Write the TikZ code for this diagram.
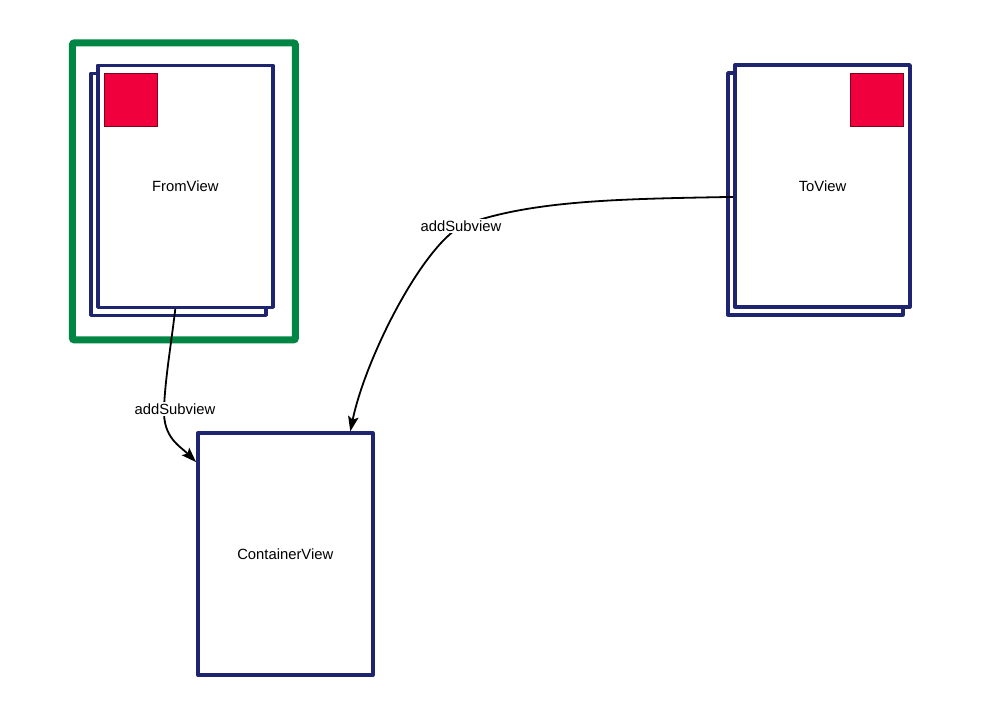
\documentclass[tikz,border=0pt]{standalone}
\usepackage{fontspec}
\setmainfont{Liberation Sans}
\usetikzlibrary{arrows.meta}
\definecolor{viewnavy}{RGB}{31,36,112}
\definecolor{framegreen}{RGB}{0,134,68}
\definecolor{markred}{RGB}{240,0,60}
\definecolor{markedge}{RGB}{130,0,30}
\begin{document}
\begin{tikzpicture}[x=1pt,y=-1pt,
  viewbox/.style={rectangle,draw=viewnavy,line width=3.4pt,fill=white,
    inner sep=0pt,minimum width=175pt,minimum height=242pt,line join=round,
    font=\fontsize{14.8}{17}\selectfont},
  framebox/.style={rectangle,draw=framegreen,line width=7pt,rounded corners=2pt,
    inner sep=0pt,minimum width=223pt,minimum height=297pt},
  marker/.style={rectangle,draw=markedge,line width=0.8pt,fill=markred,
    inner sep=0pt,minimum size=53pt},
  conn/.style={draw=black,line width=1.8pt},
  arrowconn/.style={conn,-{Stealth[length=15pt,width=10.5pt,inset=3pt]}},
  lbl/.style={fill=white,inner sep=2pt,font=\fontsize{14.8}{17}\selectfont}]

% canvas
\fill[white] (0,0) rectangle (983,719);
\useasboundingbox (0,0) rectangle (983,719);

% selection frame around the source view
\node[framebox] (frame) at (183.9,191.4) {};

% source view stack
\node[viewbox] (fvback) at (178.4,194.3) {};
\node[viewbox] (fv) at (185.3,186.3) {\raisebox{-2pt}{FromView}};
\node[marker] (fvmark) at (130.5,100) {};

% destination view stack
\node[viewbox] (tvback) at (815.4,193.9) {};
\node[viewbox] (tv) at (822.5,185.9) {\raisebox{-2pt}{ToView}};
\node[marker] (tvmark) at (877,100) {};

% container
\node[viewbox] (cv) at (285.3,554.1) {\raisebox{-2pt}{ContainerView}};

% FromView -> ContainerView
\draw[arrowconn] ([xshift=-10pt]fv.south)
  .. controls (171,345) and (165,380) .. (164,409)
  node[lbl,xshift=11pt] (lab1) {addSubview}
  .. controls (163,438) and (180,446) .. ([yshift=92pt]cv.west);

% ToView -> ContainerView
\draw[arrowconn] ([yshift=-11pt]tv.west)
  .. controls (620,199) and (530,200) .. (461,226)
  node[lbl] (lab2) {addSubview}
  .. controls (420,250) and (365,360) .. ([xshift=65pt]cv.north);

\end{tikzpicture}
\end{document}
